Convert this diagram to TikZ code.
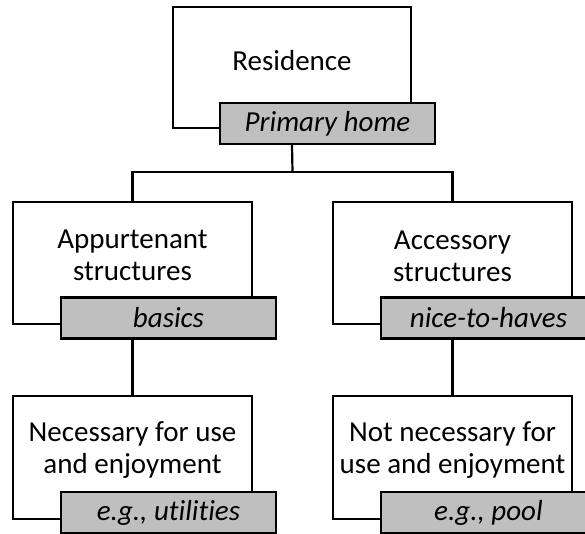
\documentclass[tikz,border=0pt]{standalone}
\usepackage{fontspec}
\setmainfont{Carlito}[Ligatures=NoCommon]
\begin{document}
\begin{tikzpicture}[
  x=1pt, y=-1pt,
  box/.style={draw, line width=2.2pt, minimum width=239pt,
              minimum height=122pt, inner sep=0pt},
  txt/.style={align=center, inner sep=0pt, font=\fontsize{29}{32}\selectfont},
  tag/.style={draw, line width=2.2pt, fill=gray!50, minimum width=215pt,
              minimum height=41pt, inner sep=0pt,
              font=\fontsize{29}{32}\selectfont\itshape},
  link/.style={line width=2.2pt}
]
\useasboundingbox (0,0) rectangle (585,534);
% Residence box
\node[box, minimum width=238pt, minimum height=121pt] (res) at (292,67.5) {};
\node[txt] (restxt) at (292,60.5) {Residence};
\node[tag] (reslab) at (327.5,123.5) {Primary home};
% Appurtenant box
\node[box] (app) at (132.5,263) {};
\node[txt] (apptxt) at (132.5,255) {Appurtenant\\structures};
\node[tag] (applab) at (168.5,318) {basics};
% Accessory box
\node[box] (acc) at (452.5,263) {};
\node[txt] (acctxt) at (452.5,256) {Accessory\\structures};
\node[tag] (acclab) at (488.5,318) {nice-to-haves};
% Necessary
\node[box, minimum height=123pt] (nec) at (132.5,457.5) {};
\node[txt] (nectxt) at (132.5,450) {Necessary for use\\and enjoyment};
\node[tag] (neclab) at (168.5,512.5) {e.g., utilities};
% Not necessary
\node[box, minimum height=123pt] (notnec) at (452.5,457.5) {};
\node[txt] (notnectxt) at (452.5,450) {Not necessary for\\use and enjoyment};
\node[tag] (notneclab) at (488.5,512.5) {e.g., pool};

\coordinate (fork) at (292.5,172);
\draw[link] (res.center |- reslab.south) -- (fork);
\draw[link] (fork) -| (app.north);
\draw[link] (fork) -| (acc.north);
\draw[link] (app.center |- applab.south) -- (nec.north);
\draw[link] (acc.center |- acclab.south) -- (notnec.north);
\end{tikzpicture}
\end{document}
